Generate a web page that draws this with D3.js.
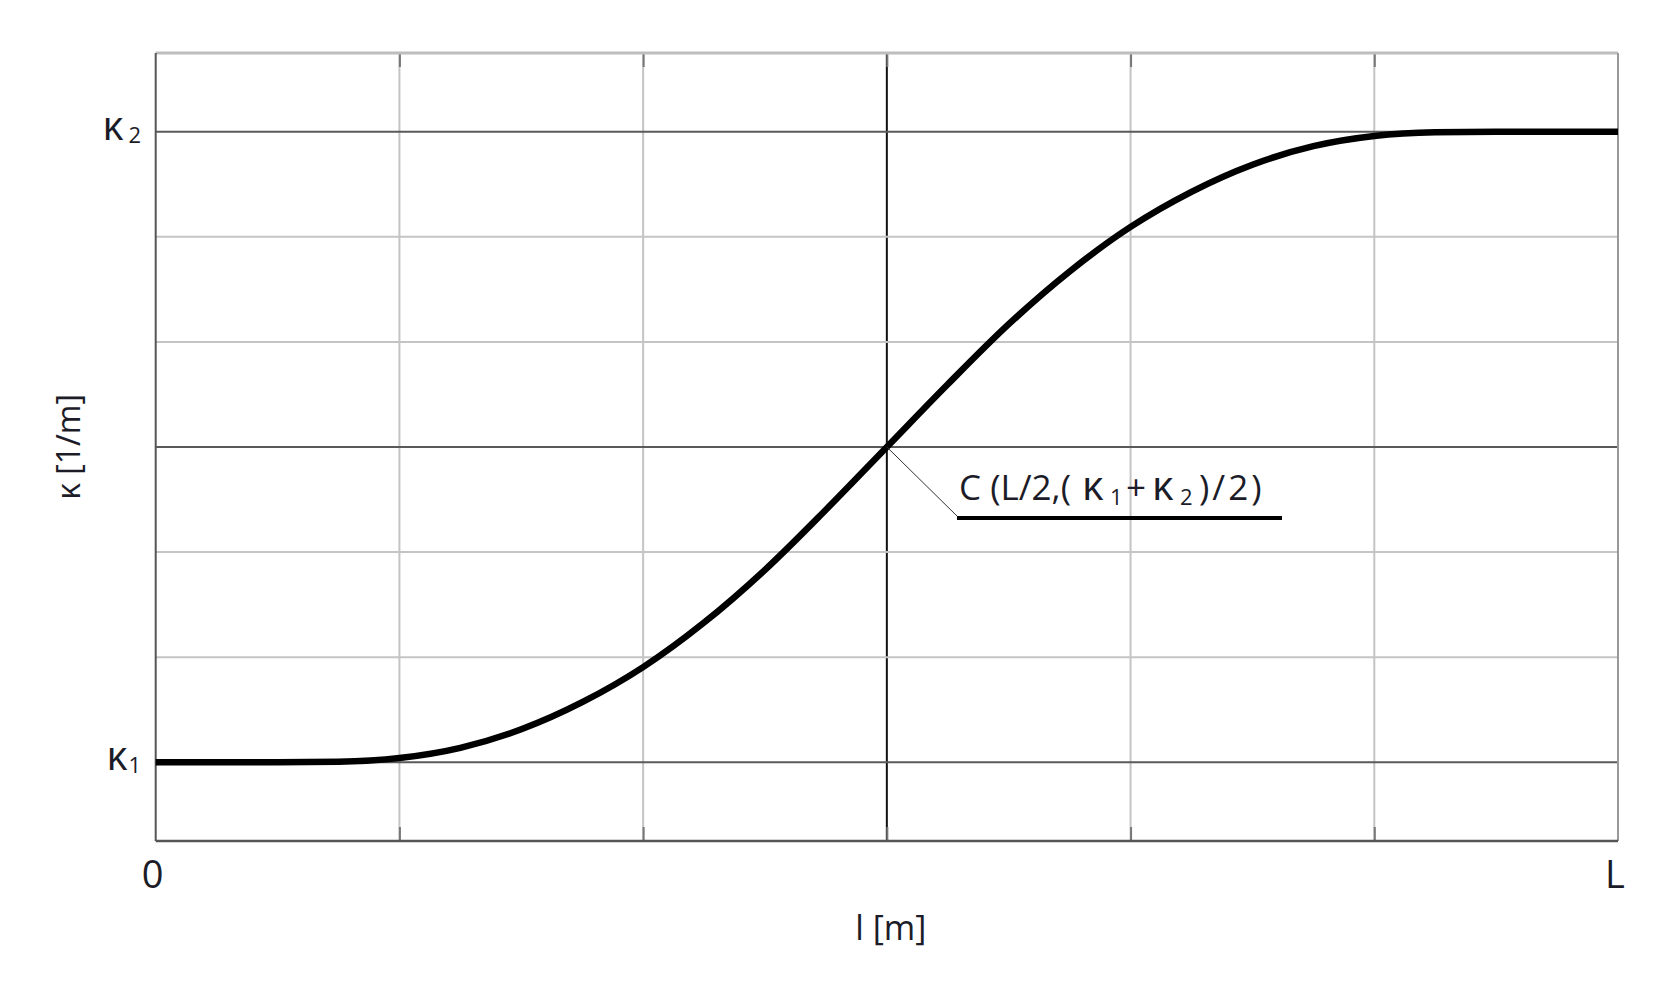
<!DOCTYPE html>
<html>
<head>
<meta charset="utf-8">
<script src="https://cdn.jsdelivr.net/npm/d3@7"></script>
<style>
  body { margin: 0; background: #fff; }
  text { font-family: "Open Sans", Lato, sans-serif; fill: #1c1c28; }
</style>
</head>
<body>
<div id="chart"></div>
<script>
// chart size and plot box
var width = 1658,
    height = 995
var margin = {left: 155.7, right: 40, top: 53, bottom: 154}

// curvature along the transition, in grid units (k1 = 0, k2 = 6, L = 6)
var lValues     = [0, 0.25, 0.5, 0.75, 1.0, 1.25, 1.5, 1.75, 2.0, 2.25, 2.5, 2.75, 3.0,
                   3.25, 3.5, 3.75, 4.0, 4.25, 4.5, 4.75, 5.0, 5.25, 5.5, 5.75, 6]
var kappaValues = [0, 0, 0, 0.005, 0.04, 0.137, 0.313, 0.571, 0.905, 1.329, 1.831, 2.403, 3.0,
                   3.597, 4.169, 4.671, 5.095, 5.429, 5.687, 5.863, 5.96, 5.995, 6.0, 6.0, 6.0]

// tick labels
var xTickValues = [0, 6]
var xTickLabels = ["0", "L"]
var yTickValues = [0, 6]
var yTickSubs   = ["1", "2"]

var svg = d3.select("#chart")
  .append("svg")
    .attr("width", width)
    .attr("height", height)

var x = d3.scaleLinear().domain([0, 6]).range([margin.left, width - margin.right])
var y = d3.scaleLinear().domain([-0.75, 6.75]).range([height - margin.bottom, margin.top])

// grid lines
var gridX = d3.range(1, 6)
var gridY = d3.range(0, 7)

svg.append("g").selectAll("line")
  .data(gridX)
  .enter().append("line")
    .attr("x1", function(d) { return x(d) })
    .attr("x2", function(d) { return x(d) })
    .attr("y1", y(6.75))
    .attr("y2", y(-0.75))
    .attr("stroke", function(d) { return d == 3 ? "#111" : "#c4c4c4" })
    .attr("stroke-width", 2)

svg.append("g").selectAll("line")
  .data(gridY)
  .enter().append("line")
    .attr("x1", x(0))
    .attr("x2", x(6))
    .attr("y1", function(d) { return y(d) })
    .attr("y2", function(d) { return y(d) })
    .attr("stroke", function(d) { return (d == 0 || d == 3 || d == 6) ? "#5a5a5a" : "#c4c4c4" })
    .attr("stroke-width", 2)

// inward tick marks on top and bottom
var bottomAxis = svg.append("g")
  .attr("transform", "translate(0," + y(-0.75) + ")")
  .call(d3.axisBottom(x).tickValues(gridX).tickSize(-14).tickFormat(""))
var topAxis = svg.append("g")
  .attr("transform", "translate(0," + y(6.75) + ")")
  .call(d3.axisTop(x).tickValues(gridX).tickSize(-14).tickFormat(""))
bottomAxis.select(".domain").remove()
topAxis.select(".domain").remove()
svg.selectAll(".tick line").attr("stroke", "#777").attr("stroke-width", 2)

// frame
svg.append("line").attr("x1", x(0)).attr("x2", x(6)).attr("y1", y(6.75)).attr("y2", y(6.75))
  .attr("stroke", "#bdbdbd").attr("stroke-width", 3)
svg.append("line").attr("x1", x(6)).attr("x2", x(6)).attr("y1", y(6.75)).attr("y2", y(-0.75))
  .attr("stroke", "#999").attr("stroke-width", 2)
svg.append("line").attr("x1", x(0)).attr("x2", x(0)).attr("y1", y(6.75)).attr("y2", y(-0.75))
  .attr("stroke", "#555").attr("stroke-width", 2)
svg.append("line").attr("x1", x(0)).attr("x2", x(6)).attr("y1", y(-0.75)).attr("y2", y(-0.75))
  .attr("stroke", "#555").attr("stroke-width", 2.5)

// the curve
var points = lValues.map(function(l, i) { return [l, kappaValues[i]] })
var line = d3.line()
  .x(function(d) { return x(d[0]) })
  .y(function(d) { return y(d[1]) })
  .curve(d3.curveMonotoneX)

svg.append("path")
  .datum(points)
  .attr("d", line)
  .attr("fill", "none")
  .attr("stroke", "#000")
  .attr("stroke-width", 6.5)

// x tick labels
svg.append("g").selectAll("text")
  .data(xTickValues)
  .enter().append("text")
    .attr("x", function(d) { return x(d) - 3 })
    .attr("y", 888)
    .attr("text-anchor", "middle")
    .style("font-size", "38px")
    .text(function(d, i) { return xTickLabels[i] })

// y tick labels (kappa with subscript)
var yLabels = svg.append("g").selectAll("text")
  .data(yTickValues)
  .enter().append("text")
    .attr("x", 141)
    .attr("y", function(d) { return y(d) + 8 })
    .attr("text-anchor", "end")
    .style("font-size", "40px")
yLabels.append("tspan").text("κ")
yLabels.append("tspan")
  .attr("dx", function(d, i) { return i == 1 ? 5 : 1 })
  .attr("dy", 3)
  .style("font-size", "22px")
  .text(function(d, i) { return yTickSubs[i] })

// axis titles
svg.append("text")
  .attr("x", x(3) + 4)
  .attr("y", 940)
  .attr("text-anchor", "middle")
  .style("font-size", "34px")
  .text("l [m]")

svg.append("text")
  .attr("transform", "translate(80," + y(3) + ") rotate(-90)")
  .attr("text-anchor", "middle")
  .style("font-size", "32px")
  .text("κ [1/m]")

// annotation of the centre point
var cx = x(3), cy = y(3)
svg.append("line")
  .attr("x1", cx).attr("y1", cy)
  .attr("x2", 957).attr("y2", 516)
  .attr("stroke", "#333").attr("stroke-width", 1)
svg.append("line")
  .attr("x1", 957).attr("x2", 1282)
  .attr("y1", 518).attr("y2", 518)
  .attr("stroke", "#000").attr("stroke-width", 4)

var note = svg.append("text")
  .attr("y", 500)
  .style("font-size", "35px")
note.append("tspan").attr("x", 959).text("C (L/2,(")
note.append("tspan").attr("x", 1082).style("font-size", "41px").text("κ")
note.append("tspan").attr("x", 1110).attr("dy", 5).style("font-size", "22px").text("1")
note.append("tspan").attr("x", 1126).attr("dy", -5).text("+")
note.append("tspan").attr("x", 1152).style("font-size", "41px").text("κ")
note.append("tspan").attr("x", 1180).attr("dy", 5).style("font-size", "22px").text("2")
note.append("tspan").attr("x", 1199).attr("dy", -5).style("letter-spacing", "3px").text(")/2)")
</script>
</body>
</html>
